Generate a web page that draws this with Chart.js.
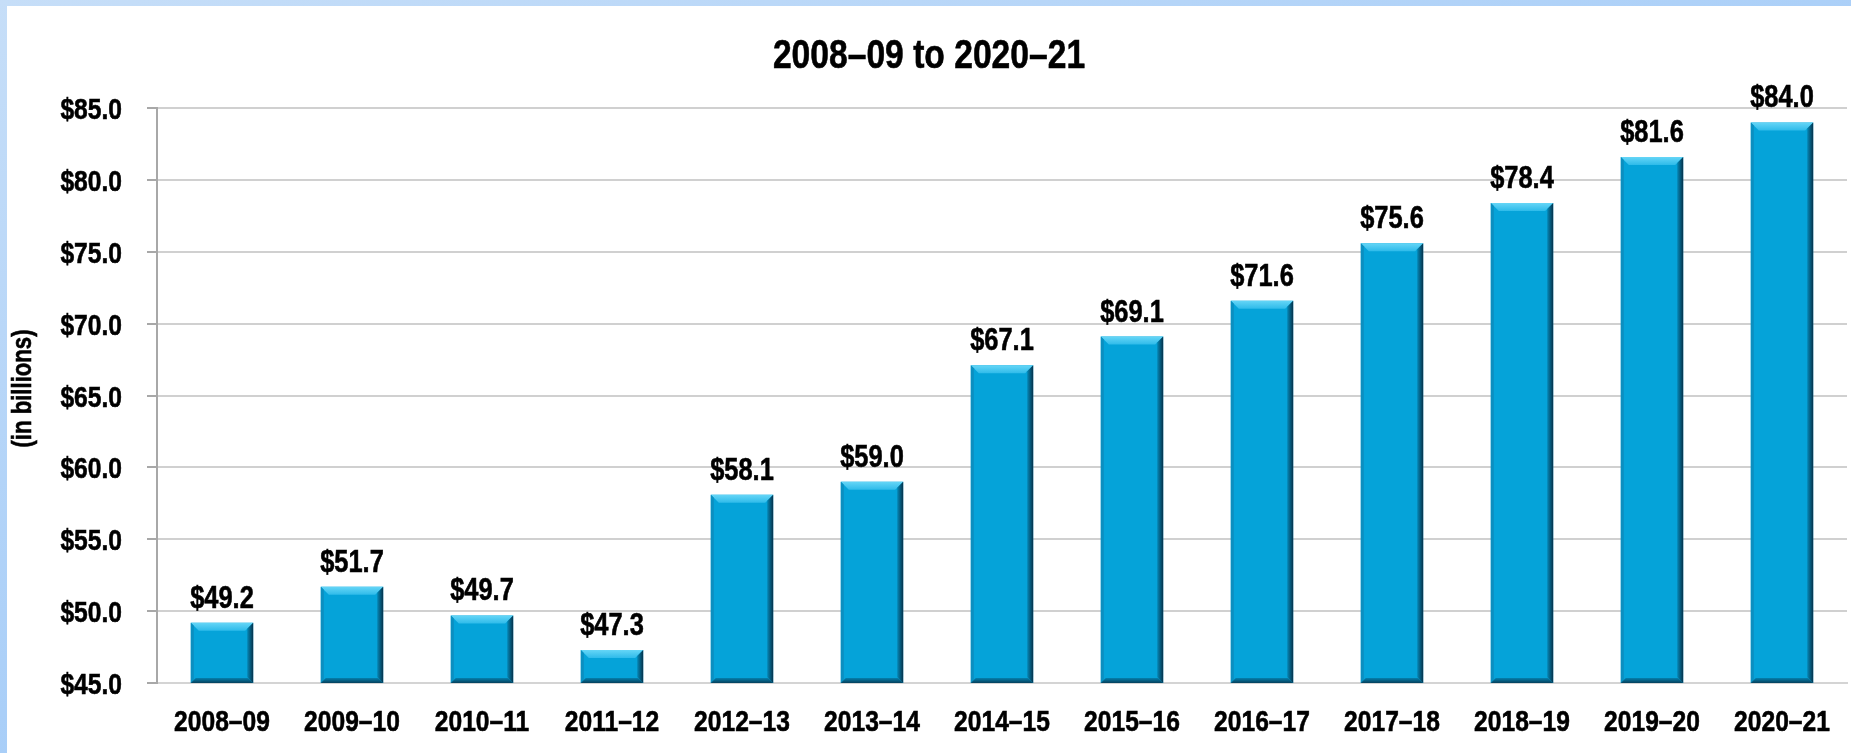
<!DOCTYPE html>
<html>
<head>
<meta charset="utf-8">
<script src="https://cdn.jsdelivr.net/npm/chart.js@4.4.1/dist/chart.umd.min.js"></script>
<style>
  html, body { margin: 0; padding: 0; }
  body {
    width: 1851px; height: 753px; overflow: hidden; position: relative;
    background: linear-gradient(160deg, #c6def8 0%, #aacff8 50%, #98c6f7 100%);
  }
  #panel { position: absolute; left: 7px; top: 6px; right: 0; bottom: 0; background: #fff; }
  #chart { position: absolute; left: 0; top: 0; }
</style>
</head>
<body>
<div id="panel"></div>
<canvas id="chart" width="1851" height="753"></canvas>
<script>
// dados do gráfico
const anos = ['2008–09', '2009–10', '2010–11', '2011–12', '2012–13', '2013–14', '2014–15',
              '2015–16', '2016–17', '2017–18', '2018–19', '2019–20', '2020–21'];
const valores = [49.2, 51.7, 49.7, 47.3, 58.1, 59.0, 67.1, 69.1, 71.6, 75.6, 78.4, 81.6, 84.0];
const eixoMin = 45;
const eixoMax = 85;
const eixoPasso = 5;
const titulo = '2008–09 to 2020–21';
const tituloEixoY = '(in billions)';

// Fonte estreita: Liberation Sans comprimida na horizontal (não há Arial Narrow)
const FONTE = "'Liberation Sans', Arial, sans-serif";
const ESTREITO = 0.82;
const dinheiro = v => '$' + Number(v).toFixed(1);

function texto(ctx, str, x, y, size, align, baseline, rot) {
    ctx.save();
    ctx.translate(x, y);
    if (rot) ctx.rotate(rot);
    ctx.scale(ESTREITO, 1);
    ctx.font = 'bold ' + size + 'px ' + FONTE;
    ctx.fillStyle = '#000';
    ctx.strokeStyle = '#000';
    ctx.lineWidth = 0.6;
    ctx.textAlign = align;
    ctx.textBaseline = baseline;
    ctx.fillText(str, 0, 0);
    ctx.strokeText(str, 0, 0);
    ctx.restore();
}

// Efeito de bisel nas barras
const biselPlugin = {
    id: 'bisel',
    afterDatasetsDraw(chart) {
        const ctx = chart.ctx;
        const area = chart.chartArea;
        const b = 8;
        chart.getDatasetMeta(0).data.forEach(bar => {
            const p = bar.getProps(['x', 'y', 'base', 'width'], true);
            const l = p.x - p.width / 2, r = p.x + p.width / 2;
            const t = p.y, bo = Math.min(p.base, area.bottom);
            ctx.save();
            // topo claro
            ctx.beginPath();
            ctx.moveTo(l, t); ctx.lineTo(r, t); ctx.lineTo(r - b, t + b); ctx.lineTo(l + b, t + b); ctx.closePath();
            let g = ctx.createLinearGradient(0, t, 0, t + b);
            g.addColorStop(0, '#66d6f7'); g.addColorStop(1, '#2fbbea');
            ctx.fillStyle = g; ctx.fill();
            // lado esquerdo
            ctx.beginPath();
            ctx.moveTo(l, t); ctx.lineTo(l + 3, t + 3); ctx.lineTo(l + 3, bo - 3); ctx.lineTo(l, bo); ctx.closePath();
            ctx.fillStyle = '#0b8fc0'; ctx.fill();
            // lado direito escuro
            ctx.beginPath();
            ctx.moveTo(r, t); ctx.lineTo(r, bo); ctx.lineTo(r - 6, bo - 6); ctx.lineTo(r - 6, t + 6); ctx.closePath();
            g = ctx.createLinearGradient(r - 6, 0, r, 0);
            g.addColorStop(0, '#0587b6'); g.addColorStop(1, '#06324a');
            ctx.fillStyle = g; ctx.fill();
            // base escura
            ctx.beginPath();
            ctx.moveTo(l, bo); ctx.lineTo(r, bo); ctx.lineTo(r - 5, bo - 5); ctx.lineTo(l + 5, bo - 5); ctx.closePath();
            g = ctx.createLinearGradient(0, bo - 5, 0, bo);
            g.addColorStop(0, '#0580ad'); g.addColorStop(1, '#05405c');
            ctx.fillStyle = g; ctx.fill();
            ctx.restore();
        });
    }
};

// Textos: título, eixos e rótulos de valor
const textosPlugin = {
    id: 'textos',
    afterDraw(chart) {
        const ctx = chart.ctx;
        const xs = chart.scales.x, ys = chart.scales.y;
        const ds = chart.data.datasets[0];

        texto(ctx, titulo, (7 + chart.width) / 2, 68, 41, 'center', 'alphabetic');

        ys.ticks.forEach((t, i) => {
            texto(ctx, dinheiro(t.value), ys.right - 35, ys.getPixelForTick(i) + 11, 30, 'right', 'alphabetic');
        });
        xs.ticks.forEach((t, i) => {
            texto(ctx, anos[i], xs.getPixelForTick(i), 731, 30, 'center', 'alphabetic');
        });
        texto(ctx, tituloEixoY, 24, (ys.top + ys.bottom) / 2 - 7, 27, 'center', 'middle', -Math.PI / 2);

        chart.getDatasetMeta(0).data.forEach((bar, i) => {
            texto(ctx, dinheiro(ds.data[i]), bar.x, bar.y - 15, 31, 'center', 'alphabetic');
        });
    }
};

new Chart(document.getElementById('chart'), {
    type: 'bar',
    data: {
        labels: anos,
        datasets: [{
            data: valores,
            backgroundColor: '#05a3d9',
            borderWidth: 0,
            barPercentage: 0.48,
            categoryPercentage: 1
        }]
    },
    options: {
        responsive: false,
        animation: false,
        layout: { padding: { left: 0, right: 4, top: 108, bottom: 0 } },
        plugins: {
            legend: { display: false },
            tooltip: { enabled: false },
            title: { display: false }
        },
        scales: {
            x: {
                grid: { display: false, drawTicks: false },
                border: { display: true, color: '#d4d4d4', width: 2 },
                ticks: { display: false },
                afterFit(scale) { scale.height = 70; }
            },
            y: {
                min: eixoMin,
                max: eixoMax,
                grid: { color: '#d0d0d0', lineWidth: 2, tickLength: 10, tickColor: '#a8a8a8' },
                border: { display: true, color: '#a8a8a8', width: 2 },
                ticks: { stepSize: eixoPasso, display: false },
                afterFit(scale) { scale.width = 157; }
            }
        }
    },
    plugins: [biselPlugin, textosPlugin]
});
</script>
</body>
</html>
